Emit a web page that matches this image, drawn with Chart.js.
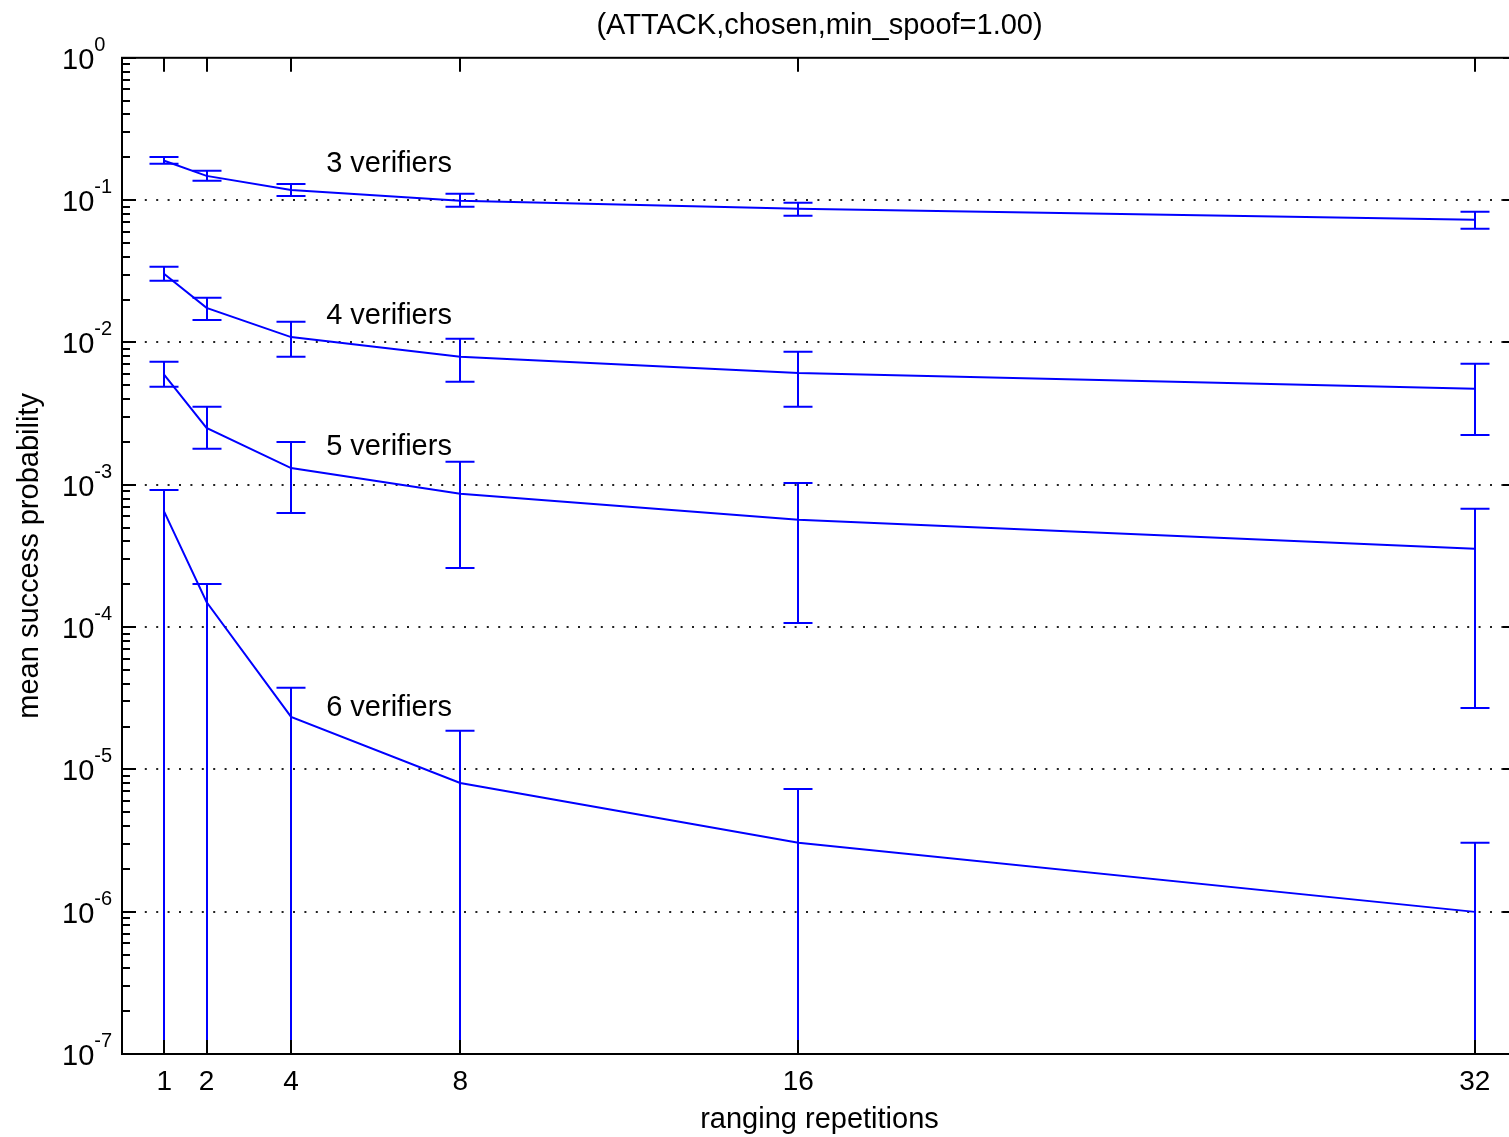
<!DOCTYPE html>
<html>
<head>
<meta charset="utf-8">
<script src="https://cdn.jsdelivr.net/npm/chart.js@4.4.0/dist/chart.umd.min.js"></script>
<style>
    html, body { margin: 0; padding: 0; overflow: hidden; background: #fff; }
    #wrap { width: 1530px; height: 1137px; }
</style>
</head>
<body>
<div id="wrap"><canvas id="attackChart" width="1530" height="1137"></canvas></div>
<script>
const repetitions = [1, 2, 4, 8, 16, 32];
const seriesNames = ['3 verifiers', '4 verifiers', '5 verifiers', '6 verifiers'];

const mean3 = [0.189, 0.148, 0.118, 0.0989, 0.0868, 0.0727];
const upper3 = [0.201, 0.161, 0.130, 0.111, 0.0957, 0.0828];
const lower3 = [0.180, 0.137, 0.107, 0.0897, 0.0776, 0.0629];

const mean4 = [0.0303, 0.0175, 0.0109, 0.00792, 0.00611, 0.00472];
const upper4 = [0.034, 0.0206, 0.0140, 0.0106, 0.00859, 0.00708];
const lower4 = [0.0271, 0.0144, 0.00792, 0.00529, 0.00353, 0.00224];

const mean5 = [0.00592, 0.00251, 0.00131, 0.000863, 0.000567, 0.000355];
const upper5 = [0.00731, 0.00353, 0.0020, 0.00145, 0.00103, 0.000677];
const lower5 = [0.00488, 0.00179, 0.000634, 0.00026, 0.000107, 0.000027];

// lower bounds of the 6-verifier bars fall below zero -> drawn to the axis
const mean6 = [0.000645, 0.000150, 0.0000234, 0.00000803, 0.00000305, 0.000000997];
const upper6 = [0.00092, 0.000201, 0.0000374, 0.0000187, 0.00000729, 0.00000305];
const lower6 = [0, 0, 0, 0, 0, 0];

const decadeTicks = [1e-7, 1e-6, 1e-5, 1e-4, 1e-3, 1e-2, 1e-1, 1];
const labelX = [4.83, 4.83, 4.83, 4.83];
const labelY = [0.18, 0.0154, 0.00185, 0.000027];

const means = [mean3, mean4, mean5, mean6];
const uppers = [upper3, upper4, upper5, upper6];
const lowers = [lower3, lower4, lower5, lower6];

const FONT = "'Liberation Sans', Arial, sans-serif";
const BLUE = '#0000ff';

Chart.defaults.font.family = FONT;
Chart.defaults.color = '#000';

const toPoints = (ys) => repetitions.map((x, i) => ({ x: x, y: ys[i] }));

const errorBarPlugin = {
    id: 'errorBars',
    afterDatasetsDraw(chart) {
        const { ctx, chartArea, scales } = chart;
        ctx.save();
        ctx.beginPath();
        ctx.rect(chartArea.left, chartArea.top, chartArea.right - chartArea.left, chartArea.bottom - chartArea.top);
        ctx.clip();
        ctx.strokeStyle = BLUE;
        ctx.lineWidth = 2;
        means.forEach((m, s) => {
            repetitions.forEach((rep, i) => {
                const px = Math.round(scales.x.getPixelForValue(rep));
                const pTop = scales.y.getPixelForValue(uppers[s][i]);
                const pBot = lowers[s][i] > 0 ? scales.y.getPixelForValue(lowers[s][i]) : chartArea.bottom + 5;
                ctx.beginPath();
                ctx.moveTo(px, pTop);
                ctx.lineTo(px, pBot);
                ctx.moveTo(px - 14.5, pTop);
                ctx.lineTo(px + 14.5, pTop);
                if (lowers[s][i] > 0) {
                    ctx.moveTo(px - 14.5, pBot);
                    ctx.lineTo(px + 14.5, pBot);
                }
                ctx.stroke();
            });
        });
        ctx.restore();

        ctx.save();
        ctx.fillStyle = '#000';
        ctx.font = '29px ' + FONT;
        ctx.textAlign = 'left';
        ctx.textBaseline = 'middle';
        seriesNames.forEach((name, s) => {
            ctx.fillText(name, scales.x.getPixelForValue(labelX[s]), scales.y.getPixelForValue(labelY[s]));
        });
        ctx.restore();
    }
};

const axesBoxPlugin = {
    id: 'axesBox',
    afterDraw(chart) {
        const { ctx, chartArea, scales } = chart;
        const { left, right, top, bottom } = chartArea;
        ctx.save();
        ctx.strokeStyle = '#000';
        ctx.lineWidth = 2;
        ctx.strokeRect(left, top, right - left, bottom - top);

        ctx.beginPath();
        decadeTicks.forEach((v, k) => {
            const py = Math.round(scales.y.getPixelForValue(v));
            ctx.moveTo(left, py); ctx.lineTo(left + 14, py);
            ctx.moveTo(right, py); ctx.lineTo(right - 14, py);
            if (k < decadeTicks.length - 1) {
                for (let m = 2; m <= 9; m++) {
                    const pm = Math.round(scales.y.getPixelForValue(m * v));
                    ctx.moveTo(left, pm); ctx.lineTo(left + 8, pm);
                    ctx.moveTo(right, pm); ctx.lineTo(right - 8, pm);
                }
            }
        });
        repetitions.forEach(rep => {
            const px = Math.round(scales.x.getPixelForValue(rep));
            ctx.moveTo(px, top); ctx.lineTo(px, top + 14);
            ctx.moveTo(px, bottom); ctx.lineTo(px, bottom - 14);
        });
        ctx.stroke();

        // y tick labels: 10 with a raised exponent
        ctx.fillStyle = '#000';
        ctx.textAlign = 'left';
        ctx.textBaseline = 'alphabetic';
        decadeTicks.forEach(v => {
            const py = scales.y.getPixelForValue(v);
            const exp = Math.round(Math.log10(v));
            ctx.font = '29px ' + FONT;
            ctx.fillText('10', 62, py + 11);
            const w = ctx.measureText('10').width;
            ctx.font = '20px ' + FONT;
            ctx.fillText(String(exp), 62 + w, py - 7);
        });
        ctx.restore();
    }
};

const ctx = document.getElementById('attackChart').getContext('2d');
const attackChart = new Chart(ctx, {
    type: 'line',
    data: {
        datasets: seriesNames.map((name, s) => ({
            label: name,
            data: toPoints(means[s]),
            borderColor: BLUE,
            borderWidth: 2,
            pointRadius: 0,
            tension: 0,
            fill: false
        }))
    },
    options: {
        responsive: false,
        animation: false,
        devicePixelRatio: 1,
        layout: { padding: { left: 0, right: 13, top: 0, bottom: 0 } },
        plugins: {
            legend: { display: false },
            tooltip: { enabled: false },
            title: {
                display: true,
                text: '(ATTACK,chosen,min_spoof=1.00)',
                fullSize: false,
                color: '#000',
                font: { size: 29, weight: 'normal' },
                padding: { top: 9, bottom: 14 }
            }
        },
        scales: {
            x: {
                type: 'linear',
                min: 0,
                max: 33,
                afterBuildTicks: (scale) => { scale.ticks = repetitions.map(v => ({ value: v })); },
                afterFit: (scale) => { scale.height = 83; },
                grid: { display: false },
                border: { display: false },
                ticks: { font: { size: 28 }, color: '#000', padding: 3, maxRotation: 0 },
                title: {
                    display: true,
                    text: 'ranging repetitions',
                    color: '#000',
                    font: { size: 29 },
                    padding: { top: 0, bottom: 0 }
                }
            },
            y: {
                type: 'logarithmic',
                min: 1e-7,
                max: 1,
                afterBuildTicks: (scale) => { scale.ticks = decadeTicks.map(v => ({ value: v })); },
                afterFit: (scale) => { scale.width = 122; },
                ticks: { display: false },
                grid: {
                    drawTicks: false,
                    lineWidth: 2,
                    color: (c) => (c.index === 0 || c.index === decadeTicks.length - 1) ? 'rgba(0,0,0,0)' : '#222'
                },
                border: { display: false, dash: [2, 9.4] },
                title: {
                    display: true,
                    text: 'mean success probability',
                    color: '#000',
                    font: { size: 29 },
                    padding: { top: 13, bottom: 0 }
                }
            }
        }
    },
    plugins: [errorBarPlugin, axesBoxPlugin]
});
</script>
</body>
</html>
